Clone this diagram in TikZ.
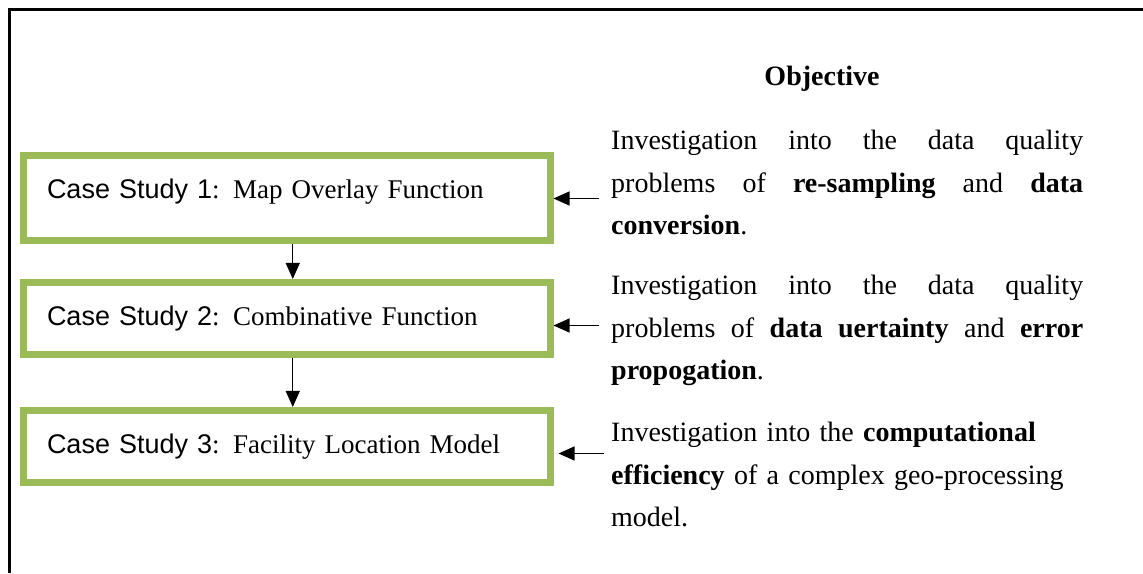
\documentclass[tikz,border=0pt]{standalone}
\usepackage{fontspec}
\setmainfont{Liberation Serif}
\setsansfont{Liberation Sans}
\usepackage{tikz}
\usetikzlibrary{arrows.meta,positioning,calc}
\definecolor{boxgreen}{HTML}{9BBB59}
\tikzset{>={Triangle[length=16pt,width=14pt]}}
\tikzset{
  casebox/.style={draw=boxgreen, line width=7pt, text width=479.5pt, inner xsep=23.5pt,
    inner ysep=23pt, text height=20pt, text depth=6pt, align=left,
    font=\fontsize{27}{33}\selectfont},
  objtext/.style={anchor=base west, inner sep=0pt, text width=472pt,
    font=\fontsize{28}{42.5}\selectfont},
  link/.style={->, line width=1.2pt}
}

\begin{document}
\begin{tikzpicture}[x=1pt,y=1pt]
    \useasboundingbox (0,0) rectangle (1143,573);
    \draw [line width=2.5pt] (9.5,0) -- (9.5,563.5) -- (1143,563.5);
    % case studies
    \node [casebox, text depth=19pt, anchor=north west] (cs1) at (20,421) {{\sffamily Case Study 1}: Map Overlay Function};
    \node [casebox, below=35pt of cs1] (cs2) {{\sffamily Case Study 2}: Combinative Function};
    \node [casebox, below=49pt of cs2] (cs3) {{\sffamily Case Study 3}: Facility Location Model};
    % objectives
    \node [anchor=base, font=\fontsize{28}{34}\selectfont\bfseries] (title) at (822,487) {Objective};
    \node [objtext, align=justify] (obj1) at (611,423) {Investigation into the data quality\linebreak
      problems of \textbf{re-sampling} and \textbf{data}\linebreak \textbf{conversion}.};
    \node [objtext, align=justify] (obj2) at (611,278) {Investigation into the data quality\linebreak
      problems of \textbf{data uertainty} and \textbf{error}\linebreak \textbf{propogation}.};
    \node [objtext, align=left] (obj3) at (611,131) {Investigation into the \textbf{computational}\\
      \textbf{efficiency} of a complex geo-processing\\ model.};
    \draw [link] ([xshift=6pt]cs1.south) -- ([xshift=6pt]cs2.north);
    \draw [link] ([xshift=6pt]cs2.south) -- ([xshift=6pt]cs3.north);
    \draw [link] ([xshift=-12pt]obj1.west |- cs1.base east) -- (cs1.base east);
    \draw [link] ([xshift=-12pt]obj2.west |- cs2.base east) -- (cs2.base east);
    \draw [link, shorten >=5pt] ([xshift=-7pt]obj3.west |- cs3.base east) -- (cs3.base east);
\end{tikzpicture}
\end{document}
